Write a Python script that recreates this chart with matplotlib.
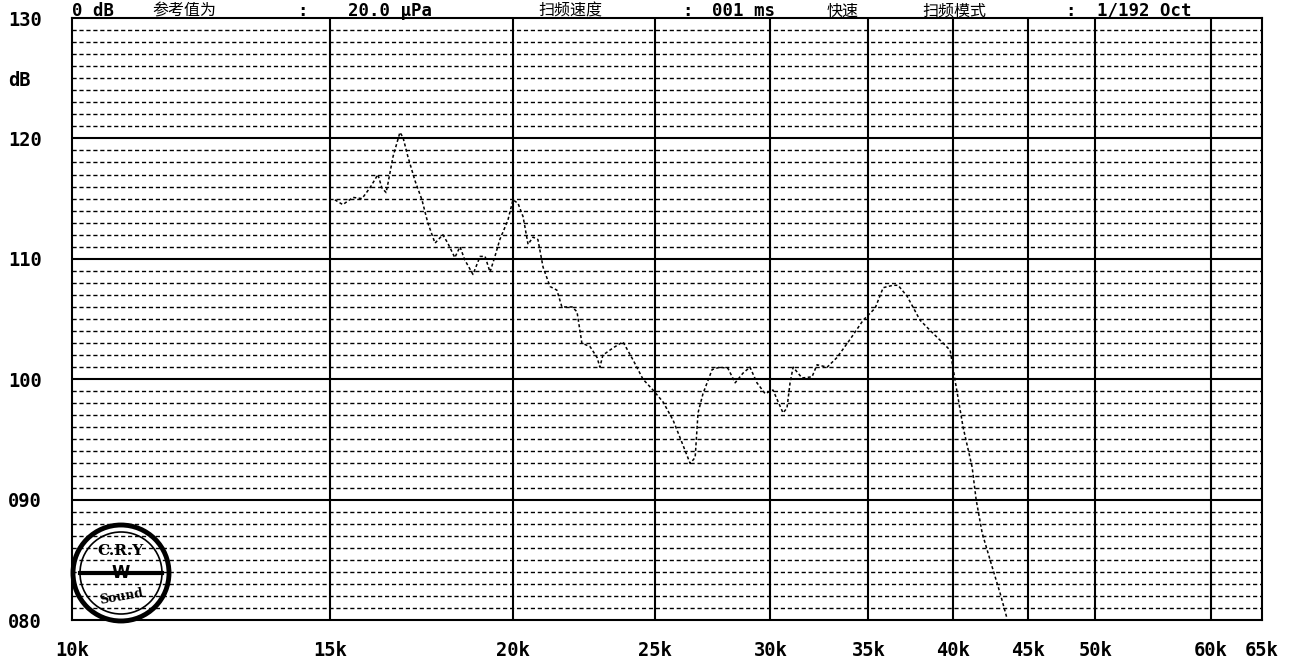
import matplotlib
matplotlib.use("Agg")
import matplotlib.pyplot as plt
from matplotlib.patches import Circle

# ---- data ----
freq_hz = [15120, 15310, 15560, 15780, 15980, 16180, 16280, 16390, 16440, 16570,
           16750, 16830, 16960, 17150, 17340, 17500, 17700, 17920, 18060, 18260,
           18410, 18550, 18790, 19000, 19150, 19300, 19450, 19600, 19850, 20010,
           20170, 20330, 20490, 20650, 20810, 20980, 21210, 21440, 21610, 21960,
           22130, 22300, 22590, 22840, 22940, 23050, 23420, 23790, 24170, 24550,
           24940, 25340, 25740, 26110, 26440, 26650, 26770, 26980, 27370, 27710,
           28060, 28380, 28730, 29050, 29370, 29750, 30120, 30600, 30790, 30940,
           31090, 31530, 32030, 32280, 32800, 33310, 34000, 34710, 35370, 35820,
           36380, 36670, 37190, 37960, 38750, 39360, 39800, 40110, 40620, 41200,
           41460, 41860, 42520, 43060, 43530]
level_db = [114.9, 114.5, 115.1, 115.0, 115.9, 117.0, 115.9, 115.5, 116.3, 118.5,
            120.5, 120.1, 118.5, 116.5, 114.9, 113.0, 111.3, 112.0, 111.3, 110.1,
            111.0, 109.9, 108.7, 110.2, 110.2, 108.9, 110.2, 111.6, 113.2, 114.9,
            114.6, 113.5, 111.2, 111.8, 111.6, 109.3, 107.7, 107.4, 106.0, 106.0,
            105.6, 103.0, 102.7, 101.8, 101.0, 102.0, 102.6, 103.1, 101.6, 100.0,
            99.1, 98.1, 96.6, 94.7, 93.0, 93.5, 97.2, 98.8, 100.8, 101.0,
            100.9, 99.7, 100.5, 101.0, 99.7, 98.8, 99.1, 97.2, 97.6, 99.7,
            101.0, 100.1, 100.2, 101.2, 101.0, 101.8, 103.3, 104.9, 105.9, 107.6,
            107.8, 107.8, 106.9, 104.9, 103.8, 103.0, 102.4, 99.9, 96.0, 92.7,
            90.0, 87.2, 84.4, 82.2, 80.1]

x_ticks = [10000, 15000, 20000, 25000, 30000, 35000, 40000, 45000, 50000, 60000, 65000]
x_labels = ['10k', '15k', '20k', '25k', '30k', '35k', '40k', '45k', '50k', '60k', '65k']
y_ticks = [130, 125, 120, 110, 100, 90, 80]
y_labels = ['130', 'dB', '120', '110', '100', '090', '080']
# header pieces: (text, left x in px, is_cjk)
header_parts = [('0 dB', 72, False), ('参考值为', 152, True), (':', 297, False),
                ('20.0 μPa', 348, False), ('扫频速度', 538, True), (':', 682, False),
                ('001 ms', 712, False), ('快速', 827, True), ('扫频模式', 922, True),
                (':', 1065, False), ('1/192 Oct', 1097, False)]

W, H = 1302, 668
fig = plt.figure(figsize=(W/100, H/100), dpi=100)
ax = fig.add_axes([72/W, 1-620/H, 1190/W, 602/H])
ax.set_xscale('log')
ax.set_xlim(10000, 65000)
ax.set_ylim(80, 130)

# grid
for db in range(81, 130):
    if db % 10:
        ax.axhline(db, color='black', lw=1.0, ls=(0, (3, 2)), zorder=1)
for db in range(90, 130, 10):
    ax.axhline(db, color='black', lw=1.5, zorder=2)
for f in x_ticks[1:-1]:
    ax.axvline(f, color='black', lw=1.5, zorder=2)

ax.plot(freq_hz, level_db, color='black', lw=1.1, ls=(0, (2, 1.6)), zorder=3)

for s in ax.spines.values():
    s.set_linewidth(1.5)

ax.xaxis.set_minor_locator(matplotlib.ticker.NullLocator())
ax.set_xticks(x_ticks)
ax.set_xticklabels(x_labels, fontfamily='DejaVu Sans Mono', fontweight='bold', fontsize=13.5)
ax.set_yticks(y_ticks)
ax.set_yticklabels(y_labels, fontfamily='DejaVu Sans Mono', fontweight='bold', fontsize=13.5)
ax.tick_params(axis='x', length=0, pad=15)
ax.tick_params(axis='y', length=0, pad=46)
for lab in ax.get_yticklabels():
    lab.set_horizontalalignment('left')

# header line above the plot
for txt, x0, cjk in header_parts:
    if cjk:
        fig.text(x0/W, 1-15.5/H, txt, family=['Noto Sans CJK SC', 'DejaVu Sans'],
                 fontsize=11.5, va='baseline', ha='left')
    else:
        fig.text(x0/W, 1-15.5/H, txt, family=['DejaVu Sans Mono', 'Noto Sans CJK SC'],
                 fontweight='bold', fontsize=12.5, va='baseline', ha='left')

# logo
tr = fig.dpi_scale_trans
cx, cy = 1.21, (H-573)/100
fig.patches.append(Circle((cx, cy), 0.48, transform=tr, fill=False, lw=3.5, ec='black'))
fig.patches.append(Circle((cx, cy), 0.41, transform=tr, fill=False, lw=1.2, ec='black'))
fig.lines.append(plt.Line2D([cx-0.41, cx+0.41], [cy, cy], transform=tr, color='black', lw=3))
fig.text(cx, cy+0.22, 'C.R.Y', transform=tr, ha='center', va='center',
         fontsize=11, fontweight='bold', family='DejaVu Serif')
fig.text(cx, cy-0.24, 'Sound', transform=tr, ha='center', va='center',
         fontsize=9, fontweight='bold', family='DejaVu Serif', rotation=10)
fig.text(cx, cy, 'W', transform=tr, ha='center', va='center',
         fontsize=12, fontweight='bold', family='DejaVu Sans')

fig.savefig('out.png', dpi=100)
